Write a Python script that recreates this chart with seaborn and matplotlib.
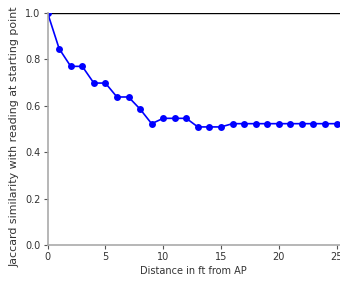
import numpy as np
import pandas as pd
import matplotlib
matplotlib.use("Agg")
import matplotlib.pyplot as plt
import seaborn as sns

sns.set_style("white")
plt.rcParams["font.family"] = ["DejaVu Sans"]

DISTANCE_FT = list(range(26))
JACCARD = [
    1.0, 0.846, 0.770, 0.770, 0.698, 0.698, 0.638, 0.638, 0.586, 0.523,
    0.546, 0.546, 0.546, 0.509, 0.509, 0.509, 0.523, 0.523, 0.523, 0.523,
    0.523, 0.523, 0.523, 0.523, 0.523, 0.523,
]

df = pd.DataFrame({"distance": DISTANCE_FT, "jaccard": JACCARD})

fig = plt.figure(figsize=(3.4, 2.82), dpi=100)
ax = fig.add_axes([0.140, 0.131, 0.860, 0.823])

sns.lineplot(
    data=df,
    x="distance",
    y="jaccard",
    marker="o",
    color="#0000ff",
    markersize=5,
    markeredgewidth=0,
    linewidth=1.2,
    ax=ax,
)

ax.axhline(1.0, color="black", linewidth=1.0, zorder=1)
ax.set_xlim(0, 25.3)
ax.set_ylim(0, 1.0)
ax.set_xticks([0, 5, 10, 15, 20, 25])
ax.set_yticks([0.0, 0.2, 0.4, 0.6, 0.8, 1.0])

for side in ["top", "right"]:
    ax.spines[side].set_visible(False)
for side in ["left", "bottom"]:
    ax.spines[side].set_color("#aaaaaa")
    ax.spines[side].set_linewidth(1.2)

ax.tick_params(axis="both", labelsize=7, length=3, width=0.8, color="#555555",
               labelcolor="#333333", bottom=True, left=True, pad=2)
ax.set_xlabel("Distance in ft from AP", fontsize=7, color="#333333", labelpad=3)
ax.set_ylabel("Jaccard similarity with reading at starting point", fontsize=7.9,
              color="#333333")
ax.yaxis.set_label_coords(-0.095, 0.468)

fig.savefig("out.png", dpi=100)
